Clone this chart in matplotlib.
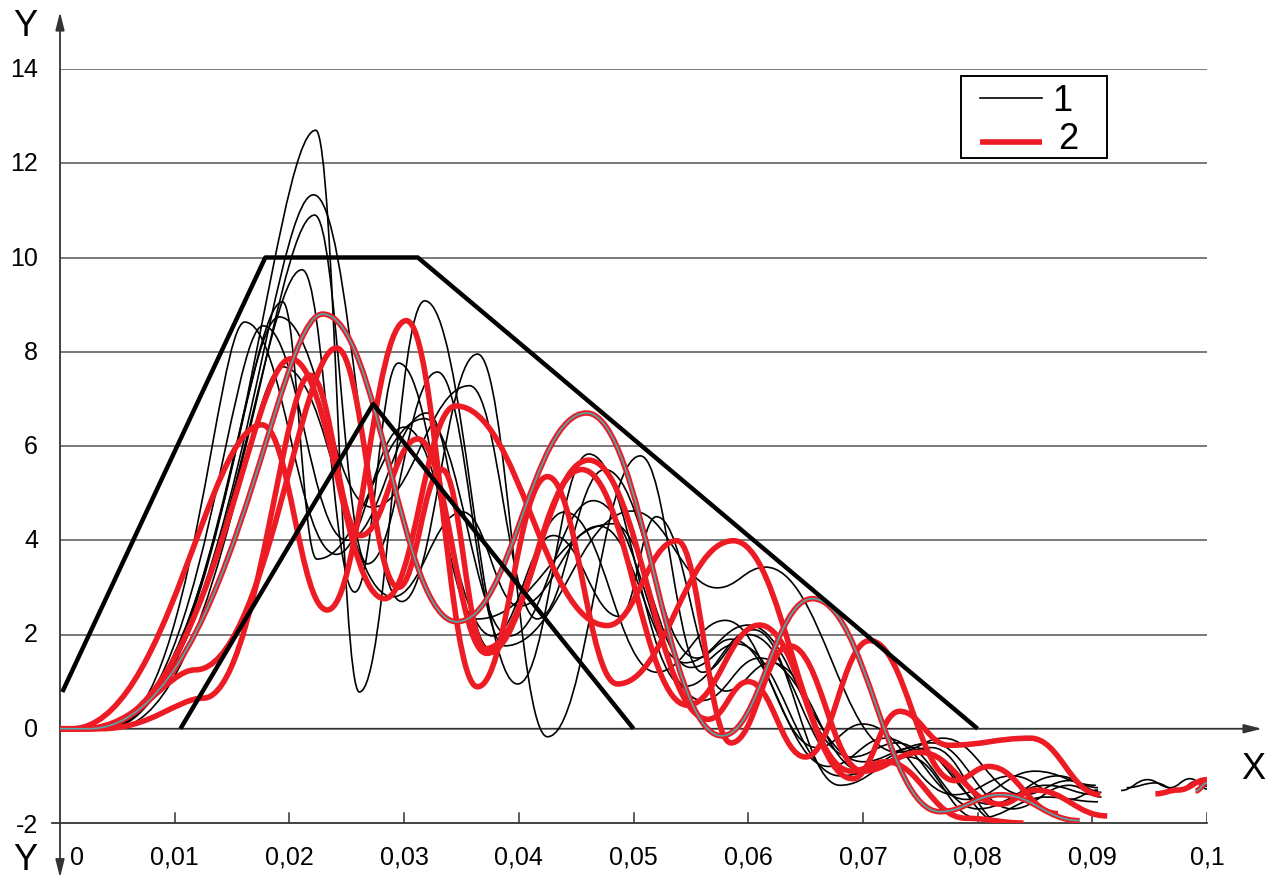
import matplotlib
matplotlib.use("Agg")
import matplotlib.pyplot as plt
from matplotlib.path import Path
from matplotlib.patches import PathPatch, Rectangle

plt.rcParams["font.family"] = ["Liberation Sans", "DejaVu Sans"]

# Extrema of each oscillation (x, y).
# First point is where the curve leaves the zero line.
black_1_x = [0.0035, 0.0223, 0.0261, 0.0318, 0.0399, 0.0461, 0.0545, 0.0605, 0.0680, 0.0740, 0.0800, 0.0860, 0.0905]
black_1_y = [0.0, 12.7, 0.78, 9.08, 0.95, 5.83, 0.9, 2.1, -1.2, -0.6, -1.9, -1.45, -1.55]
black_2_x = [0.0035, 0.0221, 0.0298, 0.0364, 0.0425, 0.0506, 0.0560, 0.0600, 0.0690, 0.0750, 0.0825]
black_2_y = [0.0, 11.33, 2.7, 7.95, -0.17, 5.79, 1.2, 2.0, -0.9, -0.5, -2.05]
black_3_x = [0.0035, 0.0222, 0.0268, 0.0329, 0.0388, 0.0499, 0.0573, 0.0615, 0.0730, 0.0770, 0.0840, 0.0880, 0.0908]
black_3_y = [0.0, 10.9, 3.5, 7.57, 1.76, 4.62, 2.99, 3.43, -0.5, -0.2, -1.4, -1.1, -1.35]
black_4_x = [0.0035, 0.0211, 0.0257, 0.0295, 0.0364, 0.0482, 0.0550, 0.0590, 0.0680, 0.0760, 0.0830, 0.0880, 0.0908]
black_4_y = [0.0, 9.74, 2.9, 7.76, 2.33, 4.35, 1.3, 1.8, -1.0, -0.3, -1.7, -1.2, -1.45]
black_5_x = [0.0040, 0.0194, 0.0224, 0.0318, 0.0392, 0.0465, 0.0560, 0.0610, 0.0700, 0.0745, 0.0810, 0.0870, 0.0905]
black_5_y = [0.0, 9.06, 3.6, 6.58, 1.97, 4.84, 0.6, 1.5, -0.7, -0.4, -1.6, -1.0, -1.25]
black_6_x = [0.0038, 0.0191, 0.0272, 0.0357, 0.0416, 0.0475, 0.0555, 0.0585, 0.0670, 0.0720, 0.0790, 0.0850, 0.0903]
black_6_y = [0.0, 8.74, 4.7, 7.28, 2.33, 5.5, 1.5, 1.9, -0.8, -0.2, -1.5, -0.9, -1.2]
black_7_x = [0.0043, 0.0161, 0.0241, 0.0300, 0.0377, 0.0430, 0.0488, 0.0520, 0.0580, 0.0620, 0.0700, 0.0760, 0.0825]
black_7_y = [0.0, 8.63, 3.7, 6.4, 1.97, 4.1, 2.38, 4.5, 0.8, 1.4, -0.9, -0.4, -2.05]
black_8_x = [0.0040, 0.0177, 0.0250, 0.0320, 0.0375, 0.0440, 0.0520, 0.0580, 0.0660, 0.0700, 0.0780, 0.0830, 0.0880, 0.0905]
black_8_y = [0.0, 8.55, 4.0, 6.7, 1.7, 4.6, 1.2, 2.3, -0.4, 0.1, -1.4, -1.0, -1.5, -1.3]
black_9_x = [0.0045, 0.0194, 0.0290, 0.0351, 0.0400, 0.0470, 0.0545, 0.0600, 0.0690, 0.0730, 0.0800, 0.0860, 0.0903]
black_9_y = [0.0, 7.68, 2.8, 4.6, 2.6, 4.3, 1.4, 2.2, -0.6, -0.3, -1.7, -1.2, -1.4]
black_tail_x = [0.0925, 0.0948, 0.0968, 0.0985, 0.1000]
black_tail_y = [-1.31, -1.08, -1.25, -1.06, -1.22]
black_tail2_x = [0.0930, 0.0955, 0.0975, 0.0990, 0.1000]
black_tail2_y = [-1.25, -1.15, -1.32, -1.12, -1.28]

red_1_x = [0.0025, 0.0229, 0.0346, 0.0459, 0.0577, 0.0656, 0.0767, 0.0820, 0.0889]
red_1_y = [0.0, 8.8, 2.27, 6.7, -0.15, 2.76, -1.76, -1.4, -1.95]
red_2_x = [0.0010, 0.0176, 0.0233, 0.0302, 0.0364, 0.0425, 0.0486, 0.0587, 0.0690, 0.0720, 0.0790, 0.0840]
red_2_y = [0.0, 6.45, 2.52, 8.66, 0.89, 5.35, 0.95, 3.99, -0.9, -0.7, -1.9, -2.0]
red_3_x = [0.0027, 0.0201, 0.0283, 0.0345, 0.0477, 0.0538, 0.0585, 0.0636, 0.0700, 0.0750, 0.0820, 0.0850, 0.0913]
red_3_y = [0.0, 7.85, 2.76, 6.85, 2.19, 3.99, -0.3, 1.76, -0.9, -0.5, -1.6, -1.3, -1.85]
red_4_x = [0.0020, 0.0118, 0.0241, 0.0295, 0.0333, 0.0371, 0.0461, 0.0565, 0.0600, 0.0650, 0.0706, 0.0780, 0.0810, 0.0870]
red_4_y = [0.0, 1.25, 8.08, 3.0, 5.5, 1.7, 5.7, 0.2, 1.0, -0.6, 1.87, -1.1, -0.8, -1.8]
red_5_x = [0.0035, 0.0125, 0.0218, 0.0262, 0.0312, 0.0372, 0.0455, 0.0547, 0.0610, 0.0691, 0.0732, 0.0775, 0.0846, 0.0907]
red_5_y = [0.0, 0.65, 7.5, 4.1, 6.15, 1.6, 5.5, 0.5, 2.2, -1.06, 0.37, -0.35, -0.2, -1.4]
red_tail_x = [0.0955, 0.0975, 0.1000]
red_tail_y = [-1.38, -1.3, -1.08]
teal_tail_x = [0.0990, 0.1000]
teal_tail_y = [-1.32, -1.15]

# Design envelope (thick black lines)
outer_x = [0.0002, 0.0179, 0.0312, 0.0800]
outer_y = [0.78, 10.0, 10.0, 0.0]
inner_x = [0.0105, 0.0273, 0.0500]
inner_y = [0.0, 6.89, 0.0]

grid_levels = [2, 4, 6, 8, 10, 12, 14]
y_ticks = [-2, 0, 2, 4, 6, 8, 10, 12, 14]
x_ticks = [0, 0.01, 0.02, 0.03, 0.04, 0.05, 0.06, 0.07, 0.08, 0.09, 0.1]
x_tick_labels = ["0", "0,01", "0,02", "0,03", "0,04", "0,05", "0,06", "0,07", "0,08", "0,09", "0,1"]
legend_labels = ["1", "2"]

RED = "#ed1c24"
TEAL = "#4fa9ad"
RISE_K = (0.6, 0.2)      # handles for the initial rise from zero
SHELF_K = (0.5, 0.25)


def wave_path(xs, ys, from_origin=True, rise=RISE_K, n_rise=1, k=0.42):
    verts = [(xs[0], ys[0])]
    codes = [Path.MOVETO]
    if from_origin:
        verts = [(0.0, 0.0), (xs[0], ys[0])]
        codes = [Path.MOVETO, Path.LINETO]
    for i in range(len(xs) - 1):
        x0, y0, x1, y1 = xs[i], ys[i], xs[i + 1], ys[i + 1]
        dx = x1 - x0
        k0, k1 = (rise if (from_origin and i < n_rise) else (k, k))
        verts += [(x0 + k0 * dx, y0), (x1 - k1 * dx, y1), (x1, y1)]
        codes += [Path.CURVE4] * 3
    return Path(verts, codes)


def draw_wave(ax, xs, ys, from_origin=True, rise=RISE_K, n_rise=1, **kw):
    path = wave_path(xs, ys, from_origin, rise, n_rise)
    ax.add_patch(PathPatch(path, fill=False, capstyle="butt", joinstyle="round", **kw))


fig = plt.figure(figsize=(12.77, 8.79), dpi=100)
ax = fig.add_axes([60 / 1277, 55 / 879, 1147 / 1277, 754 / 879])
ax.set_xlim(0, 0.1)
ax.set_ylim(-2, 14)
ax.axis("off")

for lev in grid_levels:
    ax.plot([0, 0.1], [lev, lev], color="#555555", lw=1.1, zorder=1)
ax.plot([-0.0007, 0.1], [-2, -2], color="#222222", lw=1.2, zorder=1, clip_on=False)
for xt in x_ticks[1:]:
    ax.plot([xt, xt], [-2, -1.79], color="#333333", lw=1.1, zorder=1)

# axes with arrows
arrow = dict(arrowstyle="-|>,head_length=0.6,head_width=0.15", lw=1.3,
             color="#333333", mutation_scale=18, shrinkA=0, shrinkB=0)
ax.annotate("", xy=(0.1048, 0), xytext=(0, 0), arrowprops=arrow, annotation_clip=False, zorder=2)
ax.annotate("", xy=(0, 15.21), xytext=(0, 5), arrowprops=arrow, annotation_clip=False, zorder=2)
ax.annotate("", xy=(0, -3.16), xytext=(0, 5), arrowprops=arrow, annotation_clip=False, zorder=2)

black_curves = [
    (black_1_x, black_1_y), (black_2_x, black_2_y), (black_3_x, black_3_y),
    (black_4_x, black_4_y), (black_5_x, black_5_y), (black_6_x, black_6_y),
    (black_7_x, black_7_y), (black_8_x, black_8_y), (black_9_x, black_9_y),
]
for xs, ys in black_curves:
    draw_wave(ax, xs, ys, edgecolor="black", lw=1.2, zorder=3)
for xs, ys in [(black_tail_x, black_tail_y), (black_tail2_x, black_tail2_y)]:
    draw_wave(ax, xs, ys, from_origin=False, edgecolor="black", lw=1.2, zorder=3)

red_style = dict(edgecolor=RED, lw=4.0, zorder=4)
draw_wave(ax, red_2_x, red_2_y, rise=(0.5, 0.28), **red_style)
draw_wave(ax, red_3_x, red_3_y, **red_style)
draw_wave(ax, red_4_x, red_4_y, rise=SHELF_K, n_rise=2, **red_style)
draw_wave(ax, red_5_x, red_5_y, rise=SHELF_K, n_rise=2, **red_style)
draw_wave(ax, red_tail_x, red_tail_y, from_origin=False, **red_style)
draw_wave(ax, red_1_x, red_1_y, edgecolor=RED, lw=4.0, zorder=5)
draw_wave(ax, red_1_x, red_1_y, edgecolor=TEAL, lw=1.2, zorder=6)
draw_wave(ax, teal_tail_x, teal_tail_y, from_origin=False, edgecolor=RED, lw=4.0, zorder=5)
draw_wave(ax, teal_tail_x, teal_tail_y, from_origin=False, edgecolor=TEAL, lw=1.2, zorder=6)

ax.plot(outer_x, outer_y, color="black", lw=3.2, solid_capstyle="butt", zorder=7)
ax.plot(inner_x, inner_y, color="black", lw=3.2, solid_capstyle="butt", zorder=7)

# tick labels
for yt in y_ticks:
    ax.text(-0.00192, yt if yt != -2 else -2.05, str(yt), ha="right", va="center",
            fontsize=18, clip_on=False)
for xt, lab in zip(x_ticks, x_tick_labels):
    xpos = 0.00148 if xt == 0 else xt
    ax.text(xpos, -2.715, lab, ha="center", va="center", fontsize=18, clip_on=False)

ax.text(-0.00305, 14.93, "Y", ha="center", va="center", fontsize=26, clip_on=False)
ax.text(-0.00305, -2.78, "Y", ha="center", va="center", fontsize=26, clip_on=False)
ax.text(0.1040, -0.85, "X", ha="center", va="center", fontsize=26, clip_on=False)

# legend box
ax.add_patch(Rectangle((0.07855, 12.113), 0.01273, 1.739, facecolor="white",
                       edgecolor="black", lw=1.4, zorder=10))
ax.plot([0.08021, 0.08561], [13.385, 13.385], color="black", lw=1.2, zorder=11)
ax.plot([0.08021, 0.08561], [12.452, 12.452], color=RED, lw=4.0, zorder=11,
        solid_capstyle="butt")
ax.text(0.08736, 13.34, legend_labels[0], ha="center", va="center", fontsize=26, zorder=11)
ax.text(0.08788, 12.52, legend_labels[1], ha="center", va="center", fontsize=26, zorder=11)

fig.savefig("out.png", dpi=100)
